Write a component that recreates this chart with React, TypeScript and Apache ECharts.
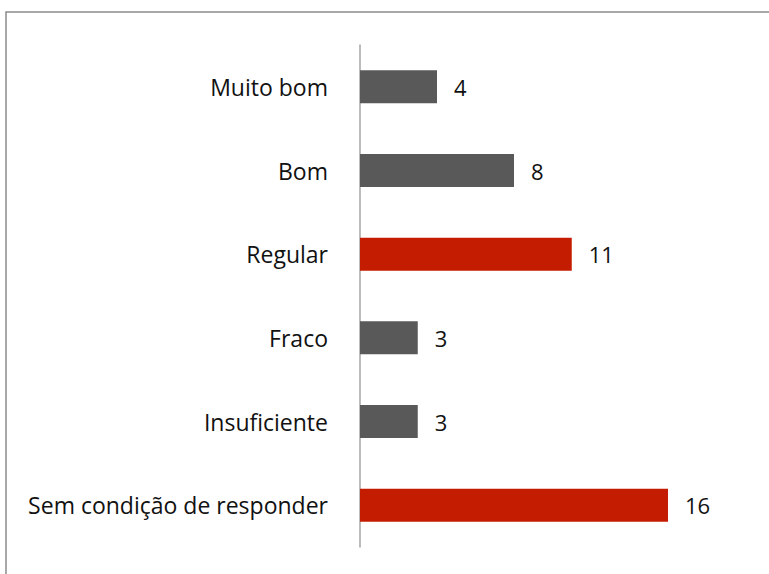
import React, { useEffect, useRef } from "react";
import * as echarts from "echarts";

const categories = ["Muito bom", "Bom", "Regular", "Fraco", "Insuficiente", "Sem condição de responder"];
const values = [4, 8, 11, 3, 3, 16];
const highlighted = [false, false, true, false, false, true];

const GRAY = "#595959";
const RED = "#c41c00";

export default function App() {
  const ref = useRef<HTMLDivElement>(null);
  useEffect(() => {
    if (!ref.current) return;
    const chart = echarts.init(ref.current, null, { renderer: "svg" });
    chart.setOption({
      animation: false,
      backgroundColor: "#ffffff",
      graphic: [
        {
          type: "rect",
          shape: { x: 6, y: 12, width: 820, height: 620 },
          style: { fill: "none", stroke: "#8c8c8c", lineWidth: 1.5 },
          silent: true,
        },
      ],
      grid: { left: 360, top: 45, width: 385, height: 502 },
      xAxis: {
        type: "value",
        min: 0,
        max: 20,
        show: false,
      },
      yAxis: {
        type: "category",
        inverse: true,
        data: categories,
        axisLine: { show: true, lineStyle: { color: "#a6a6a6", width: 1.5 } },
        axisTick: { show: false },
        axisLabel: {
          color: "#111",
          fontSize: 23,
          fontFamily: "Open Sans",
          margin: 32,
        },
      },
      series: [
        {
          type: "bar",
          data: values.map((v, i) => ({
            value: v,
            itemStyle: { color: highlighted[i] ? RED : GRAY },
          })),
          barWidth: 33,
          label: {
            show: true,
            position: "right",
            distance: 17,
            color: "#111",
            fontSize: 22,
            fontFamily: "Open Sans",
          },
        },
      ],
    });
    return () => chart.dispose();
  }, []);
  return (
    <div
      ref={ref}
      style={{ position: "fixed", left: 0, top: 0, width: 769, height: 574 }}
    />
  );
}
